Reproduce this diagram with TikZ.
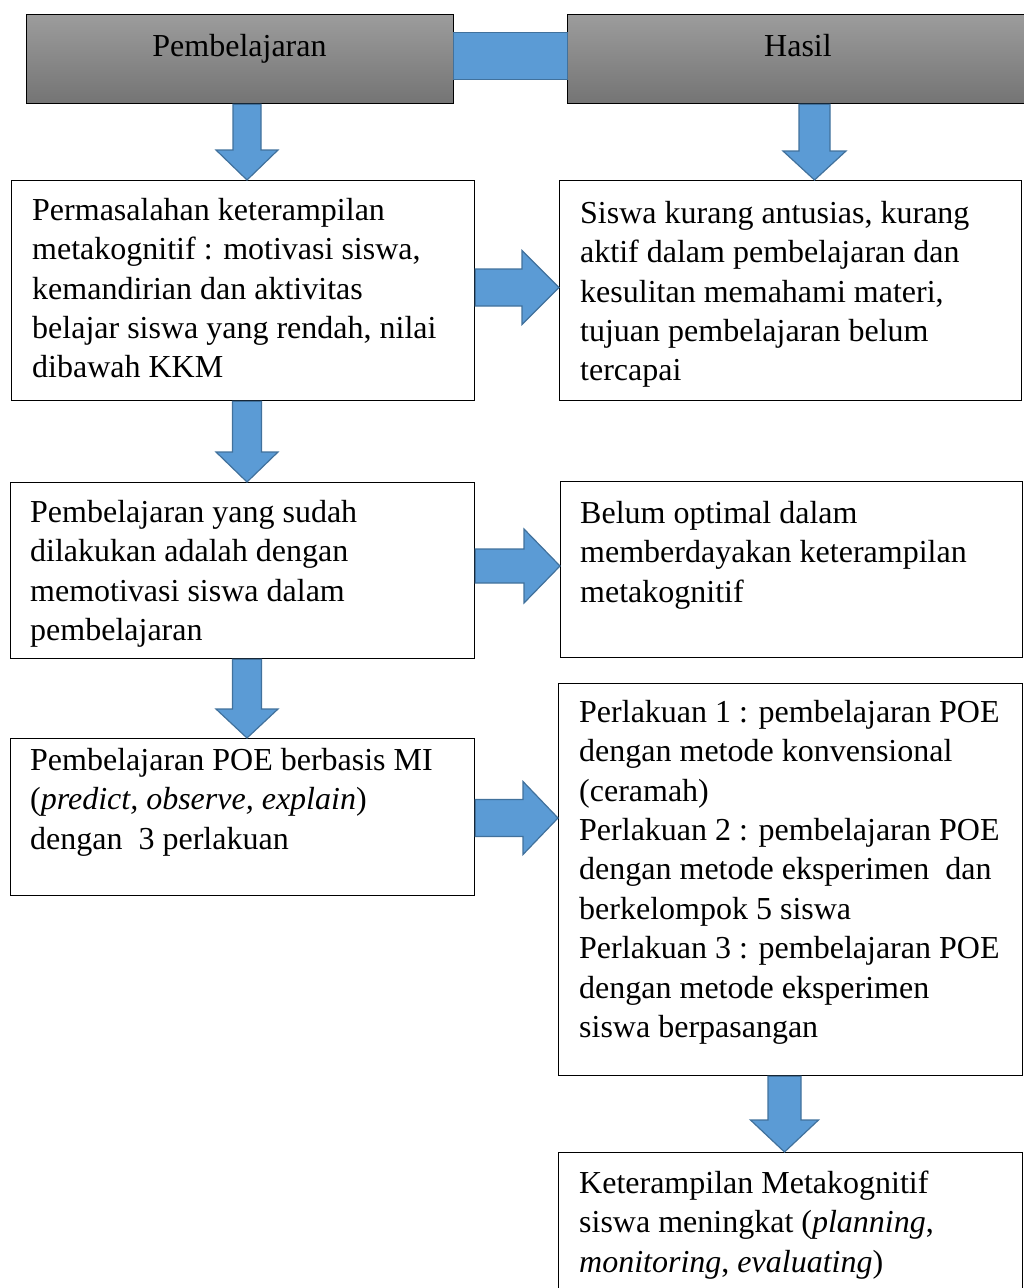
\documentclass[tikz,border=0pt]{standalone}
\usepackage{fontspec}
\setmainfont{Liberation Serif}
\usetikzlibrary{calc}
\definecolor{blkfill}{HTML}{5B9BD5}
\definecolor{blkline}{HTML}{41719C}
\definecolor{hdtop}{HTML}{9C9C9C}
\definecolor{hdbot}{HTML}{747474}
\tikzset{
  hdbox/.style={draw=black, line width=1.3pt, top color=hdtop, bottom color=hdbot, inner sep=0pt},
  bbox/.style={draw=black, line width=1.2pt, fill=white, inner sep=0pt},
  txt/.style={inner sep=0pt, align=left, anchor=north west, font=\fontsize{32}{39.4}\selectfont},
  blk/.style={fill=blkfill, draw=blkline, line width=1.2pt, line join=miter},
}
% down block arrow: #1 start, #2 tip, #3 shaft half width, #4 head half width, #5 head length
\newcommand\dnblk[5]{%
  \draw[blk] let \p1=(#1), \p2=(#2) in
    (\x1-#3,\y1) -- (\x1+#3,\y1) -- (\x1+#3,\y2+#5) -- (\x1+#4,\y2+#5) -- (\x1,\y2)
    -- (\x1-#4,\y2+#5) -- (\x1-#3,\y2+#5) -- cycle;}
% right block arrow
\newcommand\rtblk[5]{%
  \draw[blk] let \p1=(#1), \p2=(#2) in
    (\x1,\y1+#3) -- (\x2-#5,\y1+#3) -- (\x2-#5,\y1+#4) -- (\x2,\y1) -- (\x2-#5,\y1-#4)
    -- (\x2-#5,\y1-#3) -- (\x1,\y1-#3) -- cycle;}
\begin{document}
\begin{tikzpicture}[x=1pt,y=-1pt]
\useasboundingbox (0,0) rectangle (1024,1288);

% headers
\node[hdbox, minimum width=427, minimum height=89, anchor=north west] (h1) at (26,14) {};
\node[hdbox, minimum width=470, minimum height=89, anchor=north west] (h2) at (567,14) {};
\node[inner sep=0pt, anchor=base, font=\fontsize{32}{39.4}\selectfont] (h1t) at (239.5,56) {Pembelajaran};
\node[inner sep=0pt, anchor=base, font=\fontsize{32}{39.4}\selectfont] (h2t) at (798,56) {Hasil};
\node[blk, minimum width=114, minimum height=47, anchor=north west, inner sep=0pt] (con) at (453,32) {};

% boxes
\node[bbox, minimum width=463, minimum height=220, anchor=north west] (b1) at (11,180) {};
\node[bbox, minimum width=462, minimum height=220, anchor=north west] (b1r) at (559,180) {};
\node[bbox, minimum width=464, minimum height=176, anchor=north west] (b2) at (10,482) {};
\node[bbox, minimum width=462, minimum height=176, anchor=north west] (b2r) at (560,481) {};
\node[bbox, minimum width=464, minimum height=157, anchor=north west] (b3) at (10,738) {};
\node[bbox, minimum width=464, minimum height=392, anchor=north west] (b3r) at (558,683) {};
\node[bbox, minimum width=464, minimum height=150, anchor=north west] (b4) at (558,1152) {};

% texts
\node[txt] (t1) at (32,192.5) {\strut Permasalahan keterampilan\\metakognitif : motivasi siswa,\\kemandirian dan aktivitas\\belajar siswa yang rendah, nilai\\dibawah KKM};
\node[txt] (t1r) at (580,195.5) {\strut Siswa kurang antusias, kurang\\aktif dalam pembelajaran dan\\kesulitan memahami materi,\\tujuan pembelajaran belum\\tercapai};
\node[txt] (t2) at (30,494.5) {\strut Pembelajaran yang sudah\\dilakukan adalah dengan\\memotivasi siswa dalam\\pembelajaran};
\node[txt] (t2r) at (580,495.5) {\strut Belum optimal dalam\\memberdayakan keterampilan\\metakognitif};
\node[txt] (t3) at (30,742.5) {\strut Pembelajaran POE berbasis MI\\(\textit{predict, observe, explain})\\dengan\ \ 3 perlakuan};
\node[txt] (t3r) at (579,694.5) {\strut Perlakuan 1 : pembelajaran POE\\dengan metode konvensional\\(ceramah)\\Perlakuan 2 : pembelajaran POE\\dengan metode eksperimen\ \ dan\\berkelompok 5 siswa\\Perlakuan 3 : pembelajaran POE\\dengan metode eksperimen\\siswa berpasangan};
\node[txt] (t4) at (579,1165.5) {\strut Keterampilan Metakognitif\\siswa meningkat (\textit{planning},\\\textit{monitoring}, \textit{evaluating})};

% x positions of down arrows, y positions of right arrows
\coordinate (xL) at (247,0);
\coordinate (xR) at (814.5,0);
\coordinate (xB) at (784.5,0);
\coordinate (yA) at (0,287.5);
\coordinate (yB) at (0,566);
\coordinate (yC) at (0,818);

% down arrows
\dnblk{xL |- h1.south}{xL |- b1.north}{14pt}{31pt}{30pt}
\dnblk{xR |- h2.south}{xR |- b1r.north}{15.5pt}{31.5pt}{29pt}
\dnblk{xL |- b1.south}{xL |- b2.north}{14.5pt}{31pt}{30pt}
\dnblk{xL |- b2.south}{xL |- b3.north}{14.5pt}{31pt}{29pt}
\dnblk{xB |- b3r.south}{xB |- b4.north}{16.5pt}{34pt}{32pt}

% right arrows
\rtblk{b1.east |- yA}{b1r.west |- yA}{18.5pt}{37pt}{37pt}
\rtblk{b2.east |- yB}{b2r.west |- yB}{17pt}{37pt}{36pt}
\rtblk{b3.east |- yC}{b3r.west |- yC}{18.5pt}{36.5pt}{35pt}
\end{tikzpicture}
\end{document}
